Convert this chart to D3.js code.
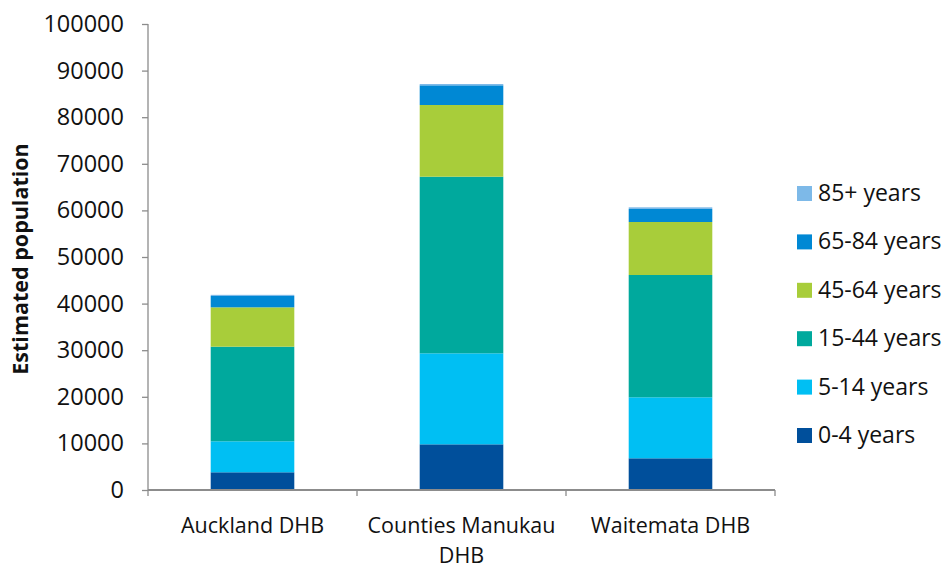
<!DOCTYPE html>
<meta charset="utf-8">
<style>
body { margin: 0; background: #fff; }
text { font-family: "Open Sans", sans-serif; fill: #111; }
.tick line, .domain { stroke: #8c8c8c; }
</style>
<svg width="946" height="568"></svg>
<script src="https://d3js.org/d3.v7.min.js"></script>
<script>

var regions = ["Auckland DHB", "Counties Manukau DHB", "Waitemata DHB"];
var ageGroups = ["0-4 years", "5-14 years", "15-44 years", "45-64 years", "65-84 years", "85+ years"];
var colours = ["#004f9b", "#00bff3", "#00a99d", "#a8cd3a", "#0088d4", "#7db9e8"];

// estimated population per age group, one array per region
var auckland  = [3800, 6650, 20300, 8450, 2430, 250];
var counties  = [9800, 19530, 37900, 15390, 4220, 280];
var waitemata = [6800, 13090, 26250, 11370, 2790, 360];

var yTicks = [0, 10000, 20000, 30000, 40000, 50000, 60000, 70000, 80000, 90000, 100000];

var rows = [auckland, counties, waitemata].map(function(vals, i) {
  var r = { region: regions[i] };
  ageGroups.forEach(function(k, j) { r[k] = vals[j]; });
  return r;
});

var svg = d3.select("svg");

var x = d3.scaleBand()
    .domain(regions)
    .range([148, 775])
    .paddingInner(0.6)
    .paddingOuter(0.3);

var y = d3.scaleLinear()
    .domain([0, 100000])
    .range([490, 24]);

var colour = d3.scaleOrdinal().domain(ageGroups).range(colours);

var series = d3.stack().keys(ageGroups)(rows);

// bars
svg.append("g")
  .selectAll("g")
  .data(series)
  .enter().append("g")
    .attr("fill", function(d) { return colour(d.key); })
  .selectAll("rect")
  .data(function(d) { return d; })
  .enter().append("rect")
    .attr("x", function(d) { return x(d.data.region); })
    .attr("width", x.bandwidth())
    .attr("y", function(d) { return y(d[1]); })
    .attr("height", function(d) { return y(d[0]) - y(d[1]); });

// y axis
var yAxis = svg.append("g")
    .attr("transform", "translate(148,0)")
    .call(d3.axisLeft(y).tickValues(yTicks).tickSize(6).tickPadding(18).tickFormat(d3.format("d")));
yAxis.select(".domain").attr("d", "M0," + y(100000) + "V" + y(0));
yAxis.selectAll("text").style("font-size", "23.5px").attr("fill", "#111");
yAxis.selectAll(".tick line").attr("stroke-width", 1.3);
yAxis.select(".domain").attr("stroke-width", 1.3);

// x axis baseline and category separators
var step = x.step();
var bounds = [0, 1, 2, 3].map(function(i) { return 148 + i * step; });
svg.append("line")
    .attr("x1", 148).attr("x2", bounds[3])
    .attr("y1", y(0)).attr("y2", y(0))
    .attr("stroke", "#8c8c8c").attr("stroke-width", 2);
svg.selectAll(".xsep")
  .data(bounds)
  .enter().append("line")
    .attr("x1", function(d) { return d; }).attr("x2", function(d) { return d; })
    .attr("y1", y(0)).attr("y2", y(0) + 6)
    .attr("stroke", "#8c8c8c").attr("stroke-width", 1.3);

// category labels (Counties wraps onto two lines)
var labelLines = [["Auckland DHB"], ["Counties Manukau", "DHB"], ["Waitemata DHB"]];
svg.selectAll(".xlab")
  .data(regions)
  .enter().append("text")
    .attr("text-anchor", "middle")
    .style("font-size", "21.5px")
    .attr("transform", function(d) { return "translate(" + (x(d) + x.bandwidth() / 2) + ",533)"; })
  .selectAll("tspan")
  .data(function(d, i) { return labelLines[i]; })
  .enter().append("tspan")
    .attr("x", 0)
    .attr("dy", function(d, i) { return i ? 29.5 : 0; })
    .text(function(d) { return d; });

// axis title
svg.append("text")
    .attr("transform", "translate(28,259) rotate(-90)")
    .attr("text-anchor", "middle")
    .style("font-size", "21.5px")
    .style("font-weight", "bold")
    .text("Estimated population");

// legend, top entry is the oldest group
var legend = svg.append("g")
  .selectAll("g")
  .data(ageGroups.slice().reverse())
  .enter().append("g")
    .attr("transform", function(d, i) { return "translate(797," + (193 + i * 48.4) + ")"; });
legend.append("rect")
    .attr("y", -7).attr("width", 15).attr("height", 15)
    .attr("fill", function(d) { return colour(d); });
legend.append("text")
    .attr("x", 21).attr("y", 8)
    .style("font-size", "23px")
    .text(function(d) { return d; });

</script>
